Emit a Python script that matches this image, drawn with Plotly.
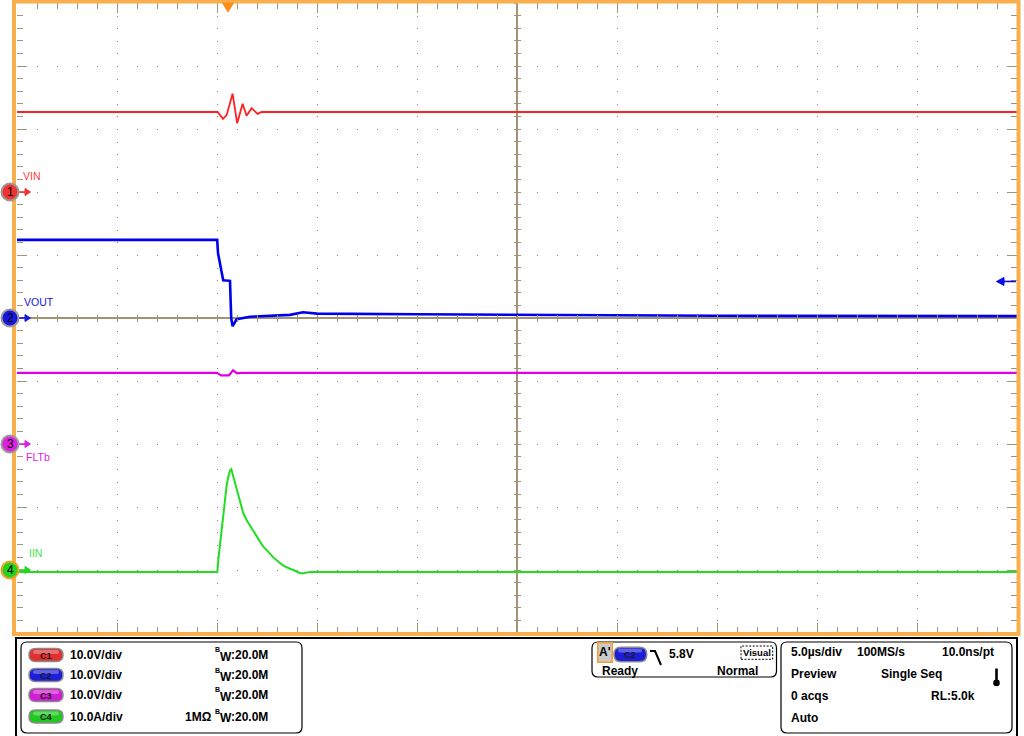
import plotly.graph_objects as go

# ---------------- data ----------------
# time in microseconds relative to screen centre (5 us/div, 10 divisions)
time_range = [-25, 25]

vin_t = [-25, -14.97, -14.70, -14.52, -14.22, -13.99, -13.72, -13.52, -13.27, -12.97, -12.77, 25]
vin_v = [12.7, 12.7, 11.6, 12.2, 15.6, 10.9, 14.0, 12.1, 13.3, 12.4, 12.7, 12.7]

vout_t = [-25, -14.99, -14.95, -14.69, -14.35, -14.29, -14.22, -14.02, -13.35, -12.5, -11.35, -10.70, -10.0, -5, 0, 10, 25]
vout_v = [12.4, 12.4, 10.3, 6.0, 5.9, 0.0, -1.3, -0.2, 0.2, 0.35, 0.5, 0.9, 0.7, 0.6, 0.5, 0.35, 0.3]

flt_t = [-25, -15.0, -14.8, -14.4, -14.2, -14.0, -13.8, 25]
flt_v = [11.3, 11.3, 10.9, 10.9, 11.7, 11.2, 11.3, 11.3]

iin_t = [-25, -14.985, -14.935, -14.85, -14.765, -14.685, -14.6, -14.515, -14.435, -14.35, -14.285,
         -14.185, -14.015, -13.85, -13.685, -13.515, -13.35, -13.185, -13.015, -12.85, -12.685,
         -12.515, -12.35, -12.185, -12.015, -11.85, -11.685, -11.515, -11.35, -11.185, -11.015,
         -10.85, -10.685, -10.35, 25]
iin_v = [-0.3, -0.3, 1.6, 4.2, 6.3, 9.0, 11.6, 13.5, 14.8, 15.8, 16.0,
         14.8, 12.7, 10.6, 9.0, 7.9, 7.0, 6.1, 5.2, 4.5, 3.7,
         3.2, 2.6, 2.0, 1.5, 1.1, 0.7, 0.4, 0.2, 0.0, -0.3,
         -0.5, -0.5, -0.3, -0.3]

channel_names = ["VIN", "VOUT", "FLTb", "IIN"]
channel_ground_div = [2, 0, -2, -4]          # ground marker position in divisions
channel_per_div = [10.0, 10.0, 10.0, 10.0]   # V/div or A/div
channel_scale_labels = ["10.0V/div", "10.0V/div", "10.0V/div", "10.0A/div"]
bandwidth_label = ":20.0M"
trigger_time = -14.45
trigger_level = 5.8
trigger_label = "5.8V"
timebase_labels = ["5.0µs/div", "100MS/s", "10.0ns/pt"]

# ---------------- styling ----------------
FONT = "Liberation Sans, Arial, sans-serif"
GRID = "#8C8468"
AXC = "#A09474"
ORANGE = "#F9B04C"
trace_colors = ["#FF2020", "#0000EE", "#E000E0", "#22DD22"]
marker_colors = ["#F03232", "#1818E0", "#E020E0", "#22D422"]
label_colors = ["#FF4040", "#1414E0", "#E020E0", "#44E044"]
pill_colors = ["#E03030", "#1E1ED8", "#D21ED2", "#20C820"]

L, T, W, H = 17, 3, 1000, 630
def PX(X):
    return (X - L) / W
def PY(Y):
    return (T + H - Y) / H

def rrect_path(x0, y0, x1, y1, r):
    pts = [
        f"M{PX(x0 + r)},{PY(y0)}", f"L{PX(x1 - r)},{PY(y0)}", f"Q{PX(x1)},{PY(y0)} {PX(x1)},{PY(y0 + r)}",
        f"L{PX(x1)},{PY(y1 - r)}", f"Q{PX(x1)},{PY(y1)} {PX(x1 - r)},{PY(y1)}",
        f"L{PX(x0 + r)},{PY(y1)}", f"Q{PX(x0)},{PY(y1)} {PX(x0)},{PY(y1 - r)}",
        f"L{PX(x0)},{PY(y0 + r)}", f"Q{PX(x0)},{PY(y0)} {PX(x0 + r)},{PY(y0)}", "Z"]
    return " ".join(pts)

shapes = []
annotations = []

def txt(X, Y, s, size=12, anchor="left", color="black", bold=True):
    annotations.append(dict(
        x=PX(X), y=PY(Y), xref="paper", yref="paper", text=(f"<b>{s}</b>" if bold else s),
        showarrow=False, xanchor=anchor, yanchor="middle",
        font=dict(family=FONT, size=size, color=color)))

# channel axes ranges from ground position and scale
def ch_range(i):
    return [(-5 - channel_ground_div[i]) * channel_per_div[i], (5 - channel_ground_div[i]) * channel_per_div[i]]

yaxis_names = ["y2", "y", "y3", "y4"]

fig = go.Figure()
series = [(vin_t, vin_v), (vout_t, vout_v), (flt_t, flt_v), (iin_t, iin_v)]
widths = [1.8, 2.6, 2.2, 2.0]
for i, (t, v) in enumerate(series):
    fig.add_trace(go.Scatter(x=t, y=v, mode="lines", yaxis=yaxis_names[i],
                             line=dict(color=trace_colors[i], width=widths[i]),
                             hoverinfo="skip", showlegend=False))

# empty traces registering the crosshair tick axes
for xa, ya in [("x2", "y"), ("x3", "y"), ("x", "y5"), ("x", "y6")]:
    fig.add_trace(go.Scatter(x=[], y=[], xaxis=xa, yaxis=ya, showlegend=False, hoverinfo="skip"))

# ---- orange screen border ----
shapes.append(dict(type="rect", xref="paper", yref="paper", x0=PX(14), x1=PX(1018.5), y0=PY(1.5), y1=PY(634),
                   line=dict(color=ORANGE, width=4), layer="above"))

# ---- channel ground markers + labels ----
for i in range(4):
    yr = yaxis_names[i]
    shapes.append(dict(type="path", xref="paper", yref=yr, xsizemode="pixel", ysizemode="pixel",
                       xanchor=0, yanchor=0, path="M1.5,0 L10,0",
                       line=dict(color=marker_colors[i], width=1.6)))
    shapes.append(dict(type="path", xref="paper", yref=yr, xsizemode="pixel", ysizemode="pixel",
                       xanchor=0, yanchor=0, path="M8,3.5 L13.5,0 L8,-3.5 Z",
                       fillcolor=marker_colors[i], line=dict(color=marker_colors[i], width=1)))
    shapes.append(dict(type="circle", xref="paper", yref=yr, xsizemode="pixel", ysizemode="pixel",
                       xanchor=0, yanchor=0, x0=-15.5, x1=1.5, y0=-8.5, y1=8.5,
                       fillcolor=marker_colors[i],
                       line=dict(color=("#F5A020" if i == 3 else "#9A9A9A"), width=2)))
    annotations.append(dict(x=0, y=0, xref="paper", yref=yr, xshift=-7, text=str(i + 1), showarrow=False,
                            xanchor="center", yanchor="middle", font=dict(family=FONT, size=12, color="black")))
label_shift = [(4, 16), (5, 16.5), (7, -13), (10, 17)]
for i in range(4):
    annotations.append(dict(x=0, y=0, xref="paper", yref=yaxis_names[i], xshift=label_shift[i][0],
                            yshift=label_shift[i][1], text=channel_names[i], showarrow=False,
                            xanchor="left", yanchor="middle",
                            font=dict(family=FONT, size=10.5, color=label_colors[i])))

# ---- trigger position (top) and trigger level (right) ----
shapes.append(dict(type="path", xref="x", yref="paper", xsizemode="pixel", ysizemode="pixel",
                   xanchor=trigger_time, yanchor=1, path="M-5.5,0 L5.5,0 L0,-9 Z",
                   fillcolor="#FF8C1A", line=dict(color="#FF8C1A", width=1)))
shapes.append(dict(type="path", xref="paper", yref="y", xsizemode="pixel", ysizemode="pixel",
                   xanchor=1, yanchor=trigger_level, path="M-14,0 L-1,0",
                   line=dict(color="#0A0AE6", width=1.6)))
shapes.append(dict(type="path", xref="paper", yref="y", xsizemode="pixel", ysizemode="pixel",
                   xanchor=1, yanchor=trigger_level, path="M-13,4 L-20.5,0 L-13,-4 Z",
                   fillcolor="#0A0AE6", line=dict(color="#0A0AE6", width=1)))

# ---- bottom information panel ----
shapes.append(dict(type="rect", xref="paper", yref="paper", x0=PX(16), x1=PX(1017), y0=PY(638), y1=PY(740),
                   line=dict(color="black", width=2)))
for (x0, y0, x1, y1) in [(21, 642, 302, 733), (592, 642, 776.5, 677), (781, 642, 1012, 733)]:
    shapes.append(dict(type="path", xref="paper", yref="paper", path=rrect_path(x0, y0, x1, y1, 6),
                       line=dict(color="black", width=1.2)))

rows1 = [655, 675, 695, 716.5]
for i, yc in enumerate(rows1):
    shapes.append(dict(type="path", xref="paper", yref="paper", path=rrect_path(29, yc - 6.5, 63, yc + 6.5, 6.5),
                       fillcolor=pill_colors[i], line=dict(color="#8A8A8A", width=1.5)))
    shapes.append(dict(type="path", xref="paper", yref="paper", path=rrect_path(33, yc - 5, 59, yc - 1, 2),
                       fillcolor="rgba(255,255,255,0.3)", line=dict(width=0)))
    txt(46, yc + 0.5, f"C{i + 1}", size=9, anchor="center", color="#1A1A1A", bold=True)
    txt(68, yc, channel_scale_labels[i], size=12)
    txt(212.5, yc - 5, "B", size=7)
    txt(218, yc + 1.5, "W", size=12)
    txt(229, yc, bandwidth_label, size=12)
txt(182.5, rows1[3], "1MΩ", size=12)

# trigger box
shapes.append(dict(type="rect", xref="paper", yref="paper", x0=PX(597.7), x1=PX(612.3), y0=PY(662.3), y1=PY(642.7),
                   fillcolor="#CACACA", line=dict(color="#F0A030", width=1.5)))
txt(605, 652.5, "A'", size=12, anchor="center")
shapes.append(dict(type="path", xref="paper", yref="paper", path=rrect_path(614, 647.3, 646.7, 661.7, 7),
                   fillcolor=pill_colors[1], line=dict(color="#8A8A8A", width=1.5)))
shapes.append(dict(type="path", xref="paper", yref="paper", path=rrect_path(618, 648.5, 642, 652.5, 2),
                   fillcolor="rgba(255,255,255,0.3)", line=dict(width=0)))
txt(630.3, 655, "C2", size=9, anchor="center", color="#1A1A1A", bold=True)
shapes.append(dict(type="path", xref="paper", yref="paper",
                   path=f"M{PX(650)},{PY(651)} L{PX(655)},{PY(651)} L{PX(661)},{PY(665)}",
                   line=dict(color="black", width=2)))
txt(667, 654, trigger_label, size=12)
shapes.append(dict(type="rect", xref="paper", yref="paper", x0=PX(741), x1=PX(772.7), y0=PY(659.3), y1=PY(646),
                   line=dict(color="black", width=1, dash="2px,1.5px")))
txt(757, 652.7, "Visual", size=9.5, anchor="center")
txt(600, 671, "Ready", size=12)
txt(715, 671, "Normal", size=12)

# acquisition box
rows3 = [652, 674, 696, 717.5]
txt(789, rows3[0], timebase_labels[0])
txt(855, rows3[0], timebase_labels[1])
txt(940, rows3[0], timebase_labels[2])
txt(789, rows3[1], "Preview")
txt(879, rows3[1], "Single Seq")
txt(789, rows3[2], "0 acqs")
txt(929, rows3[2], "RL:5.0k")
txt(789, rows3[3], "Auto")
shapes.append(dict(type="rect", xref="paper", yref="paper", x0=PX(995.2), x1=PX(997.8), y0=PY(682), y1=PY(668.5),
                   fillcolor="black", line=dict(width=0)))
shapes.append(dict(type="circle", xref="paper", yref="paper", x0=PX(993.2), x1=PX(999.8), y0=PY(686.2), y1=PY(679.6),
                   fillcolor="black", line=dict(width=0)))

tick_common = dict(showticklabels=False, fixedrange=True, tickcolor=AXC, tickwidth=1)
fig.update_layout(
    width=1024, height=736, autosize=False,
    margin=dict(l=L, r=1024 - L - W, t=T, b=736 - T - H, pad=0),
    paper_bgcolor="white", plot_bgcolor="white", showlegend=False, hovermode=False,
    xaxis=dict(range=time_range, dtick=5, tick0=0, showgrid=True, gridcolor=GRID, griddash="1px,11.6px",
               gridwidth=1, zeroline=True, zerolinecolor=AXC, zerolinewidth=1.5, showline=False,
               ticks="inside", ticklen=10, mirror="ticks",
               minor=dict(dtick=1, ticks="inside", ticklen=6, tickcolor=AXC, tickwidth=1, showgrid=False),
               **tick_common),
    xaxis2=dict(range=time_range, overlaying="x", anchor="free", position=0.5, dtick=1, tick0=0,
                showgrid=False, zeroline=False, showline=False, ticks="outside", ticklen=3, **tick_common),
    xaxis3=dict(range=time_range, overlaying="x", anchor="free", position=0.5, dtick=1, tick0=0,
                showgrid=False, zeroline=False, showline=False, ticks="inside", ticklen=3, **tick_common),
    yaxis=dict(range=ch_range(1), dtick=10, tick0=0, showgrid=True, gridcolor=GRID, griddash="1px,19px",
               gridwidth=1, zeroline=True, zerolinecolor=AXC, zerolinewidth=1.5, showline=False,
               ticks="inside", ticklen=10, mirror="ticks",
               minor=dict(dtick=2, ticks="inside", ticklen=6, tickcolor=AXC, tickwidth=1, showgrid=False),
               **tick_common),
    yaxis2=dict(range=ch_range(0), overlaying="y", visible=False, fixedrange=True),
    yaxis3=dict(range=ch_range(2), overlaying="y", visible=False, fixedrange=True),
    yaxis4=dict(range=ch_range(3), overlaying="y", visible=False, fixedrange=True),
    yaxis5=dict(range=ch_range(1), overlaying="y", anchor="free", position=0.5, dtick=2, tick0=0,
                showgrid=False, zeroline=False, showline=False, ticks="outside", ticklen=3, **tick_common),
    yaxis6=dict(range=ch_range(1), overlaying="y", anchor="free", position=0.5, dtick=2, tick0=0,
                showgrid=False, zeroline=False, showline=False, ticks="inside", ticklen=3, **tick_common),
    shapes=shapes, annotations=annotations,
)

fig.write_html("out.html", config={"displayModeBar": False},
               post_script="document.body.style.margin='0px';document.body.style.overflow='hidden';")
